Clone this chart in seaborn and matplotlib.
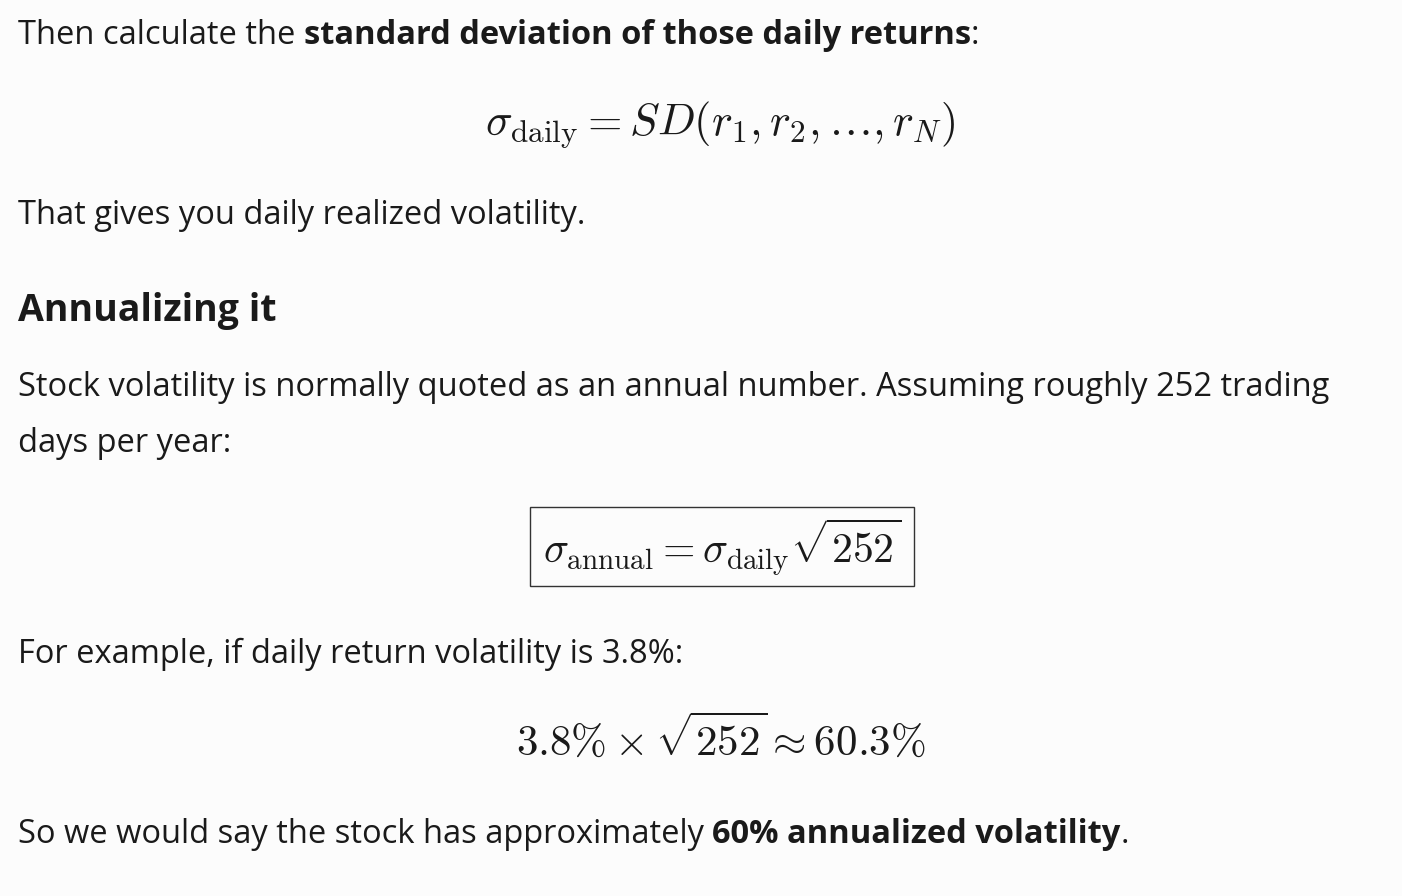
import matplotlib
matplotlib.use("Agg")
import matplotlib.pyplot as plt
import seaborn as sns
from matplotlib.patches import Rectangle

sns.set_theme(style="white")
plt.rcParams["font.family"] = ["Open Sans", "DejaVu Sans"]
plt.rcParams["mathtext.fontset"] = "cm"

# values shown in the text
trading_days = 252
daily_vol = 3.8
annual_vol = 60.3
rounded_vol = 60

W, H = 1402, 896
fig = plt.figure(figsize=(W / 100, H / 100), dpi=100, facecolor="#fcfcfc")
renderer = fig.canvas.get_renderer()
BODY = 23.5
INK = "#1a1a1a"


def line(y, parts, x=18, size=BODY):
    # parts: list of (text, bold) drawn one after another
    for txt, bold in parts:
        t = fig.text(x / W, 1 - y / H, txt, fontsize=size, color=INK,
                     fontweight="bold" if bold else "normal", va="center", ha="left")
        bb = t.get_window_extent(renderer)
        x += bb.width


def math(y, expr, cx, size=31):
    fig.text(cx / W, 1 - y / H, expr, fontsize=size, color=INK, ha="center", va="center")


line(35, [("Then calculate the ", False), ("standard deviation of those daily returns", True), (":", False)])
math(125, r"$\sigma_{\mathrm{daily}} = SD(r_1, r_2, \ldots, r_N)$", 720, size=32)
line(215, [("That gives you daily realized volatility.", False)])
line(311, [("Annualizing it", True)], size=27)
line(387, [(f"Stock volatility is normally quoted as an annual number. Assuming roughly {trading_days} trading", False)])
line(443, [("days per year:", False)])

fig.patches.append(Rectangle((530 / W, 1 - 586 / H), 384 / W, 79 / H, transform=fig.transFigure,
                             fill=False, edgecolor="#333333", linewidth=1))
math(547, r"$\sigma_{\mathrm{annual}} = \sigma_{\mathrm{daily}}\sqrt{%d}$" % trading_days, 722, size=30)

line(654, [(f"For example, if daily return volatility is {daily_vol}%:", False)])
math(741, r"$%.1f\%% \times \sqrt{%d} \approx %.1f\%%$" % (daily_vol, trading_days, annual_vol), 721)
line(834, [("So we would say the stock has approximately ", False),
           (f"{rounded_vol}% annualized volatility", True), (".", False)])

fig.savefig("out.png", dpi=100, facecolor=fig.get_facecolor())
